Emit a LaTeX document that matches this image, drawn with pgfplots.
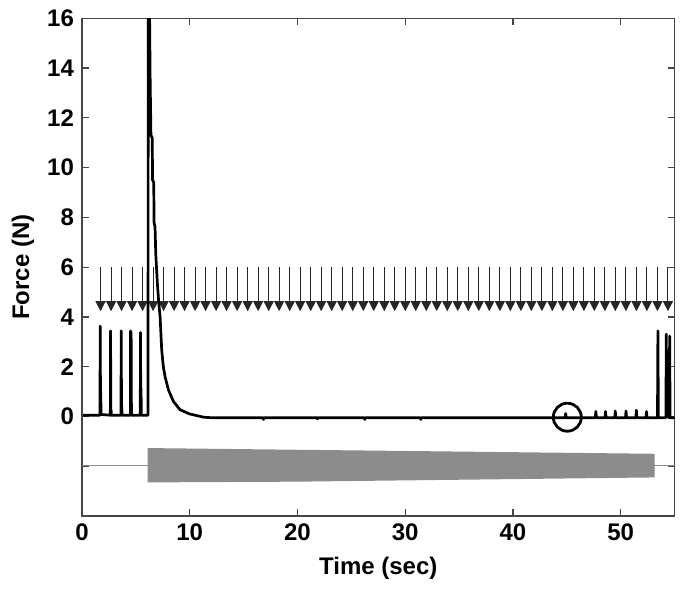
\documentclass[border=0pt]{standalone}
\usepackage{fontspec}
\setmainfont{Liberation Sans}
\usepackage{pgfplots}
\pgfplotsset{compat=1.18}
\usetikzlibrary{arrows.meta}
\definecolor{bargray}{RGB}{140,140,140}
\definecolor{axgray}{RGB}{70,70,70}
\begin{document}
\begin{tikzpicture}
\begin{axis}[
  scale only axis,
  width=296.25pt, height=248.85pt,
  xmin=0, xmax=55, ymin=-4, ymax=16,
  xtick={0,10,20,30,40,50},
  xticklabels={0,10,20,30,40,50},
  ytick={-2,0,2,4,6,8,10,12,14,16},
  yticklabels={,0,2,4,6,8,10,12,14,16},
  tick align=inside,
  major tick length=3.5pt,
  axis line style={draw=axgray, line width=0.7pt},
  every tick/.style={draw=axgray, line width=0.6pt},
  tick label style={font=\fontsize{12}{14}\selectfont\bfseries},
  xticklabel style={yshift=-0.5pt},
  yticklabel style={xshift=-0.5pt},
  label style={font=\fontsize{12}{14}\selectfont\bfseries},
  xlabel={Time (sec)},
  ylabel={Force (N)},
  xlabel style={at={(axis description cs:0.5,0)}, anchor=north, yshift=-17pt},
  ylabel style={at={(axis description cs:-0.069,0.5)}, anchor=south},
  clip=true,
]
% gray baseline of the stimulus bar
\addplot[draw=bargray, line width=0.8pt] coordinates {(0,-1.97) (55,-1.97)};
% tapered stimulus bar
\addplot[fill=bargray, draw=none] coordinates {
  (6.1,-1.27) (53.16,-1.50) (53.16,-2.45) (20,-2.62) (6.1,-2.65)} -- cycle;
% arrows (stimuli)
\addplot[quiver={u=0, v=-1.77}, draw=black!85, line width=0.55pt,
  -{Triangle[width=5pt,length=5pt]}] table[row sep=\\] {
x y\\
1.72 6\\ 2.70 6\\ 3.67 6\\ 4.65 6\\ 5.62 6\\ 6.60 6\\ 7.57 6\\ 8.55 6\\ 9.52 6\\ 10.50 6\\
11.47 6\\ 12.45 6\\ 13.42 6\\ 14.40 6\\ 15.38 6\\ 16.35 6\\ 17.33 6\\ 18.30 6\\ 19.28 6\\ 20.25 6\\
21.23 6\\ 22.20 6\\ 23.18 6\\ 24.15 6\\ 25.13 6\\ 26.11 6\\ 27.08 6\\ 28.06 6\\ 29.03 6\\ 30.01 6\\
30.98 6\\ 31.96 6\\ 32.93 6\\ 33.91 6\\ 34.88 6\\ 35.86 6\\ 36.83 6\\ 37.81 6\\ 38.79 6\\ 39.76 6\\
40.74 6\\ 41.71 6\\ 42.69 6\\ 43.66 6\\ 44.64 6\\ 45.61 6\\ 46.59 6\\ 47.56 6\\ 48.54 6\\ 49.51 6\\
50.49 6\\ 51.47 6\\ 52.44 6\\ 53.42 6\\ 54.39 6\\
};
% force trace
\addplot[black, line width=1.35pt, line join=round] table[row sep=\\] {
x y\\
0.10 0.05\\ 1.67 0.05\\ 1.69 3.63\\ 1.72 0.30\\ 1.74 1.00\\ 1.77 0.08\\
2.63 0.05\\ 2.65 3.44\\ 2.68 0.05\\ 2.70 0.27\\ 2.73 0.05\\
3.62 0.05\\ 3.64 3.44\\ 3.67 0.10\\ 3.69 0.40\\ 3.72 0.05\\
4.49 0.05\\ 4.51 3.44\\ 4.53 0.10\\ 4.56 3.40\\ 4.59 0.05\\
5.41 0.05\\ 5.43 3.37\\ 5.46 0.10\\ 5.48 1.13\\ 5.51 0.05\\
6.13 0.05\\ 6.15 20.0\\ 6.28 15.8\\ 6.33 13.4\\ 6.40 11.3\\ 6.52 11.2\\ 6.55 9.5\\
6.66 9.4\\ 6.69 7.8\\ 6.78 7.6\\ 6.85 6.5\\ 7.00 5.33\\ 7.12 4.6\\ 7.25 4.0\\
7.40 2.67\\ 7.55 2.0\\ 7.71 1.6\\ 8.02 1.07\\ 8.49 0.6\\ 9.10 0.27\\ 10.0 0.10\\
11.3 -0.03\\ 12.0 -0.05\\ 16.8 -0.05\\ 16.85 -0.12\\ 16.9 -0.05\\
21.8 -0.05\\ 21.85 -0.10\\ 21.9 -0.05\\ 26.2 -0.05\\ 26.25 -0.12\\ 26.3 -0.05\\
31.4 -0.05\\ 31.45 -0.12\\ 31.5 -0.05\\
44.85 -0.05\\ 44.90 0.12\\ 44.95 -0.05\\
47.65 -0.05\\ 47.70 0.20\\ 47.75 -0.05\\
48.55 -0.05\\ 48.60 0.20\\ 48.65 -0.05\\
49.45 -0.05\\ 49.50 0.22\\ 49.55 -0.05\\
50.45 -0.05\\ 50.50 0.22\\ 50.55 -0.05\\
51.41 -0.05\\ 51.46 0.25\\ 51.51 -0.05\\
52.35 -0.05\\ 52.40 0.20\\ 52.45 -0.05\\
53.42 -0.05\\ 53.46 3.44\\ 53.50 -0.05\\
54.20 -0.05\\ 54.24 3.31\\ 54.28 0.00\\ 54.51 -0.05\\ 54.55 3.23\\ 54.59 -0.05\\
55.00 -0.05\\
};
% circle marker
\addplot[only marks, mark=o, mark size=7pt, mark options={line width=1.4pt, draw=black}]
  coordinates {(45.05,-0.03)};
\end{axis}
\pgfresetboundingbox
\useasboundingbox ([shift={(-41pt,-36.5pt)}]current axis.south west) rectangle ([shift={(5.25pt,9.15pt)}]current axis.north east);
\end{tikzpicture}
\end{document}
